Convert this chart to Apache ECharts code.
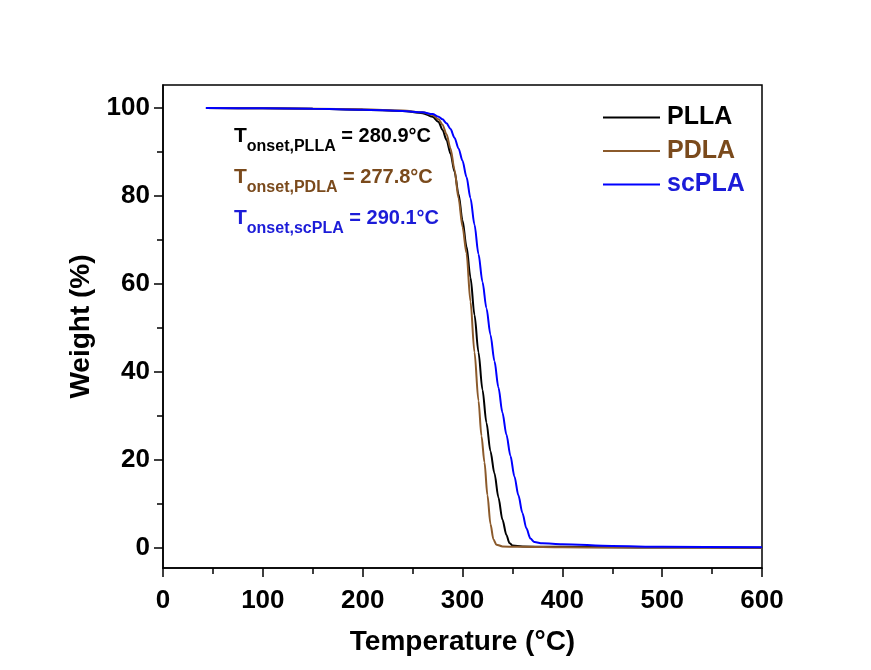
<!DOCTYPE html>
<html>
<head>
<meta charset="utf-8">
<title>TGA</title>
<script src="https://cdn.jsdelivr.net/npm/echarts@6/dist/echarts.min.js"></script>
<style>
  html, body { margin: 0; padding: 0; background: #fff; }
  #chart { width: 871px; height: 670px; }
</style>
</head>
<body>
<div id="chart"></div>
<script>
// values: [temperature °C, weight %]
var plla = [
  [43, 100], [100, 99.9], [150, 99.8], [200, 99.6], [240, 99.3], [260, 98.8],
  [270, 98.0], [276, 96.8], [280, 95.0], [284, 92.7], [288, 89.6], [292, 85.5],
  [296, 80.5], [300, 74.5], [304, 68.5], [308, 61.5], [312, 53], [316, 44.5],
  [320, 36], [324, 28.5], [328, 22], [332, 17], [336, 11.5], [340, 6.5],
  [344, 3], [347, 1.2], [350, 0.6], [360, 0.4], [400, 0.3], [450, 0.2],
  [500, 0.15], [600, 0.1]
];
var pdla = [
  [43, 100], [100, 99.9], [150, 99.8], [200, 99.7], [240, 99.4], [260, 99.0],
  [270, 98.4], [276, 97.4], [280, 96.2], [284, 94.0], [288, 90.8], [292, 86],
  [296, 79.5], [300, 73], [304, 67], [308, 56], [312, 44.5], [316, 33.5],
  [319, 25.5], [322, 19.5], [325, 12], [328, 5.5], [331, 2], [334, 0.8],
  [340, 0.4], [360, 0.3], [400, 0.2], [450, 0.15], [600, 0.1]
];
var scpla = [
  [43, 100], [100, 99.9], [150, 99.8], [200, 99.6], [240, 99.3], [260, 99.0],
  [270, 98.6], [276, 98.0], [280, 97.4], [284, 96.5], [288, 95.2], [292, 93.2],
  [296, 90.8], [300, 88.0], [304, 84.3], [308, 79.5], [312, 73.5], [316, 66.8],
  [320, 60.5], [324, 54.5], [328, 48.5], [332, 42.5], [336, 36.5], [340, 30.8],
  [344, 25.8], [348, 21], [352, 16.3], [356, 12], [360, 8], [364, 4.5],
  [368, 2.2], [372, 1.4], [380, 1.1], [400, 0.9], [450, 0.5], [500, 0.3],
  [600, 0.2]
];

var seriesNames = ['PLLA', 'PDLA', 'scPLA'];
var onsetLabels = ['PLLA', 'PDLA', 'scPLA'];
var onsetValues = ['280.9°C', '277.8°C', '290.1°C'];

var yMajor = [0, 20, 40, 60, 80, 100];
var yMinor = [10, 30, 50, 70, 90];

var lineColors = ['#000000', '#8b5a2b', '#0000ff'];
var textColors = ['#000000', '#7a4a1c', '#1c1cd8'];
var font = "'Liberation Sans', Arial, sans-serif";

var chart = echarts.init(document.getElementById('chart'));

var annotations = onsetLabels.map(function (lab, i) {
  return {
    type: 'text',
    left: 234,
    top: 125 + i * 41,
    style: {
      text: '{t|T}{s|onset,' + lab + '}{v| = ' + onsetValues[i] + '}',
      fill: textColors[i],
      rich: {
        t: { fontSize: 21, fontWeight: 'bold', fontFamily: font, lineHeight: 30, verticalAlign: 'top', padding: [1, 0, 0, 0] },
        s: { fontSize: 16, fontWeight: 'bold', fontFamily: font, lineHeight: 30, verticalAlign: 'bottom' },
        v: { fontSize: 20, fontWeight: 'bold', fontFamily: font, lineHeight: 30, verticalAlign: 'top', padding: [1, 0, 0, 0] }
      }
    }
  };
});

var option = {
  backgroundColor: '#ffffff',
  animation: false,
  grid: {
    left: 163, right: 109, top: 85, bottom: 102,
    show: true, borderColor: '#000', borderWidth: 1.5, backgroundColor: 'transparent'
  },
  legend: {
    orient: 'vertical',
    left: 598,
    top: 100,
    icon: 'rect',
    itemWidth: 57,
    itemHeight: 2,
    itemGap: 8.5,
    textStyle: { fontSize: 25, fontWeight: 'bold', fontFamily: font, padding: [0, 0, 0, 2] },
    data: seriesNames.map(function (n, i) {
      return { name: n, textStyle: { color: textColors[i] } };
    })
  },
  xAxis: {
    type: 'value',
    min: 0, max: 600, interval: 100,
    name: 'Temperature (°C)',
    nameLocation: 'middle',
    nameGap: 60,
    nameTextStyle: { fontSize: 28, fontWeight: 'bold', fontFamily: font, color: '#000' },
    axisLine: { onZero: false, lineStyle: { color: '#000', width: 1.5 } },
    axisTick: { length: 9, lineStyle: { color: '#000', width: 1.5 } },
    minorTick: { show: true, splitNumber: 2, length: 6, lineStyle: { color: '#000', width: 1.5 } },
    axisLabel: { fontSize: 26, fontWeight: 'bold', fontFamily: font, color: '#000', margin: 20 },
    splitLine: { show: false }
  },
  yAxis: [{
    type: 'value',
    min: -4.5, max: 105.2,
    name: 'Weight (%)',
    nameLocation: 'middle',
    nameGap: 59,
    nameTextStyle: { fontSize: 28, fontWeight: 'bold', fontFamily: font, color: '#000' },
    axisLine: { show: true, onZero: false, lineStyle: { color: '#000', width: 1.5 } },
    axisTick: { show: true, length: 9, customValues: yMajor, lineStyle: { color: '#000', width: 1.5 } },
    axisLabel: { customValues: yMajor, fontSize: 26, fontWeight: 'bold', fontFamily: font, color: '#000', margin: 13 },
    splitLine: { show: false }
  }, {
    // minor ticks only
    type: 'value',
    position: 'left',
    min: -4.5, max: 105.2,
    axisLine: { show: false, onZero: false },
    axisTick: { show: true, length: 6, customValues: yMinor, lineStyle: { color: '#000', width: 1.5 } },
    axisLabel: { show: false, customValues: yMinor },
    splitLine: { show: false }
  }],
  series: [plla, pdla, scpla].map(function (d, i) {
    return {
      name: seriesNames[i],
      type: 'line',
      yAxisIndex: 0,
      data: d,
      smooth: 0.3,
      smoothMonotone: 'x',
      showSymbol: false,
      symbol: 'none',
      color: lineColors[i],
      lineStyle: { color: lineColors[i], width: 2 },
      z: 3 + i
    };
  }),
  graphic: annotations
};

chart.setOption(option);
</script>
</body>
</html>
